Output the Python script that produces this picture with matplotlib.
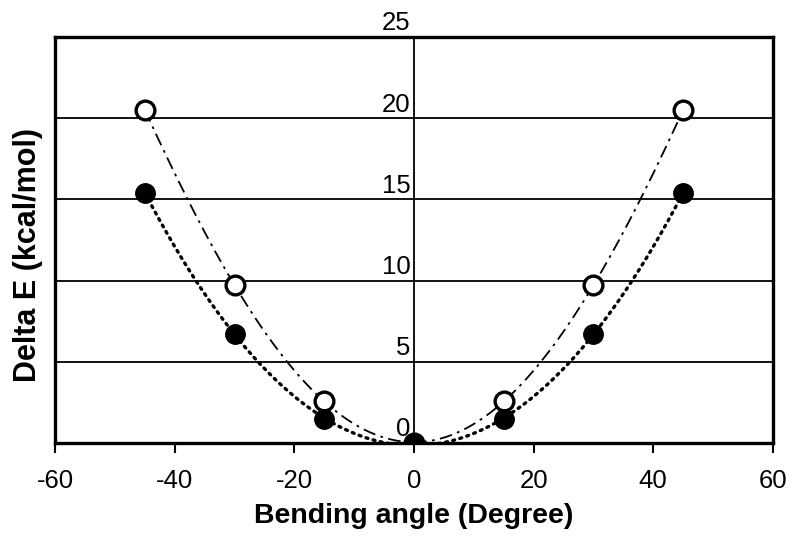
import numpy as np
import matplotlib
matplotlib.use('Agg')
import matplotlib.pyplot as plt

plt.rcParams['font.family'] = ['Liberation Sans', 'DejaVu Sans']
plt.rcParams['axes.unicode_minus'] = False

# data
angle = [-45, -30, -15, 0, 15, 30, 45]
e_open = [20.5, 9.7, 2.6, 0.0, 2.6, 9.7, 20.5]
e_filled = [15.4, 6.7, 1.5, -0.1, 1.5, 6.7, 15.4]
y_ticks = [0, 5, 10, 15, 20, 25]
x_ticks = [-60, -40, -20, 0, 20, 40, 60]

fig = plt.figure(figsize=(8, 5.43), dpi=100)
ax = fig.add_axes([0.069, 0.184, 0.897, 0.748])

# smooth fitted curves
xs = np.linspace(-45, 45, 300)
p_open = np.polyfit(angle, e_open, 4)
p_filled = np.polyfit(angle, e_filled, 4)
ax.plot(xs, np.polyval(p_open, xs), color='black', lw=1.3,
        dashes=[7, 3, 1.5, 3], zorder=3)
ax.plot(xs, np.polyval(p_filled, xs), color='black', lw=2.4,
        linestyle=(0, (0.6, 1.6)), dash_capstyle='round', zorder=3)

ax.plot(angle, e_open, 'o', ms=13.5, mfc='white', mec='black', mew=2.4, zorder=4)
ax.plot(angle, e_filled, 'o', ms=14, mfc='black', mec='black', zorder=5)

# grid lines and centre axis
for y in y_ticks[1:-1]:
    ax.axhline(y, color='black', lw=1.3, zorder=1)
ax.axvline(0, color='black', lw=1.3, zorder=1)

# y labels drawn next to the centre line
for y in y_ticks:
    ax.text(-0.6, y + 0.1, str(y), ha='right', va='bottom', fontsize=18.5,
            clip_on=False)

ax.set_xlim(-60, 60)
ax.set_ylim(0, 25)
ax.set_xticks(x_ticks)
ax.set_yticks([])
ax.tick_params(axis='x', direction='out', length=7.5, width=1.5, labelsize=18.5, pad=11)
for s in ax.spines.values():
    s.set_linewidth(2.4)

ax.set_xlabel('Bending angle (Degree)', fontsize=20.5, fontweight='bold', labelpad=7)
ax.set_ylabel('Delta E (kcal/mol)', fontsize=22, fontweight='bold')
ax.yaxis.set_label_coords(-0.017, 0.463)

fig.savefig('out.png', dpi=100)
